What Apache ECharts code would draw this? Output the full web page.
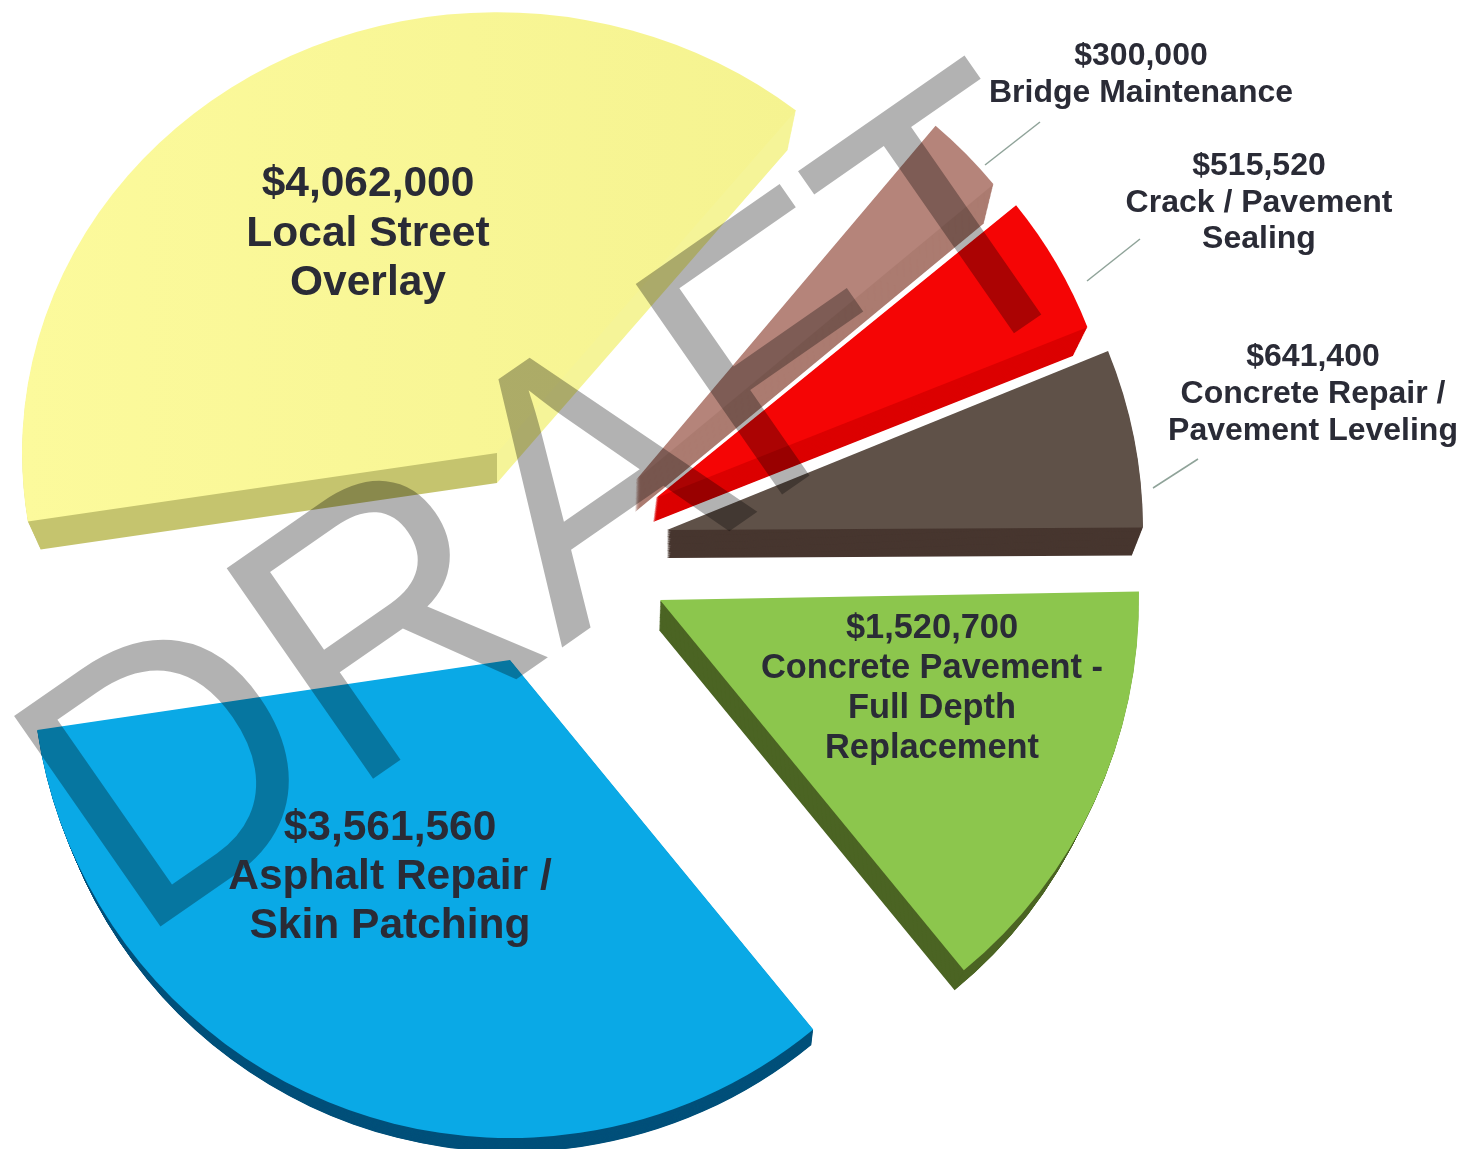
<!DOCTYPE html>
<html>
<head>
<meta charset="utf-8">
<style>
  html, body { margin: 0; padding: 0; background: #fff; }
  #main { width: 1466px; height: 1149px; }
</style>
<script src="https://cdn.jsdelivr.net/npm/echarts@6/dist/echarts.min.js"></script>
</head>
<body>
<div id="main"></div>
<script>
// counter-clockwise from the bridge slice, same order the slices are painted
var categories = ['Bridge Maintenance', 'Local Street\nOverlay', 'Asphalt Repair /\nSkin Patching',
  'Concrete Pavement -\nFull Depth\nReplacement', 'Concrete Repair /\nPavement Leveling', 'Crack / Pavement\nSealing'];
var values = [300000, 4062000, 3561560, 1520700, 641400, 515520];

var total = values.reduce(function (a, b) { return a + b; }, 0);
var startDeg = 40.8;

var topColors = ['#b5847a', '#f9f796', '#0aa9e6', '#8cc64d', '#5f5148', '#f50505'];
var sideColors = ['#ab7b70', null, '#00507a', '#4b6423', '#47362f', '#dc0000'];
// the yellow slice fades a little to the right
var yellowTop = {
  type: 'linear', x: 0, y: 0, x2: 1, y2: 0,
  colorStops: [{ offset: 0, color: '#fcfa9c' }, { offset: 1, color: '#f5f390' }]
};
// the yellow slice has a dark wall left of the tip and a pale one right of it
var yellowWall = {
  type: 'linear', x: -1, y: 0, x2: 1, y2: 0, global: true,
  colorStops: [
    { offset: 0, color: '#c5c46e' }, { offset: 0.5, color: '#c5c46e' },
    { offset: 0.5, color: '#f5f498' }, { offset: 1, color: '#f5f498' }
  ]
};
// tip of each exploded slice and how the bottom face sits behind it
var layout = [
  { cx: 636, cy: 480, r: 464, sy: 1, rot: -1.2, dx: -1, dy: 32, shrink: 11 },
  { cx: 497, cy: 453, r: 475, sy: 0.928, rot: 0, dx: 0, dy: 30, shrink: 13 },
  { cx: 510, cy: 660, r: 478, sy: 1, rot: -0.5, dx: 2, dy: 20, shrink: 6 },
  { cx: 660, cy: 600, r: 479, sy: 1, rot: -0.5, dx: -1, dy: 30, shrink: 13 },
  { cx: 667, cy: 530, r: 476, sy: 1, rot: -1.2, dx: 0, dy: 28, shrink: 11 },
  { cx: 656, cy: 498, r: 464, sy: 1, rot: -1.7, dx: -3, dy: 24, shrink: 12 }
];
var labelPos = [
  { x: 1141, y: 38, size: 32, lh: 37 },
  { x: 368, y: 160, size: 42.5, lh: 49.5 },
  { x: 390, y: 804, size: 42.5, lh: 49 },
  { x: 932, y: 609, size: 34.4, lh: 40 },
  { x: 1313, y: 339, size: 32, lh: 37 },
  { x: 1259, y: 148, size: 32, lh: 36.5 }
];
var leaderLines = [
  [1040, 122, 985, 165],
  [1140, 239, 1087, 281],
  [1198, 459, 1153, 488]
];

function money(v) {
  return '$' + v.toLocaleString('en-US');
}

function renderSlice(params, api) {
  var i = params.dataIndex;
  var before = 0;
  for (var k = 0; k < i; k++) before += values[k];
  var p = layout[i];
  var a0 = -(startDeg + p.rot + before / total * 360) * Math.PI / 180;
  var a1 = a0 - api.value(0) / total * 2 * Math.PI;
  var children = [];
  // wall: stacked copies from the bottom face up to the top face
  var steps = 32;
  for (var s = steps; s > 0; s--) {
    var t = s / steps;
    children.push({
      type: 'sector',
      shape: { cx: p.dx * t, cy: p.dy * t / p.sy, r: p.r - p.shrink * t, r0: 0, startAngle: a0, endAngle: a1, clockwise: false },
      style: { fill: sideColors[i] || yellowWall }
    });
  }
  children.push({
    type: 'sector',
    shape: { cx: 0, cy: 0, r: p.r, r0: 0, startAngle: a0, endAngle: a1, clockwise: false },
    style: { fill: i === 1 ? yellowTop : topColors[i] }
  });
  return { type: 'group', x: p.cx, y: p.cy, scaleY: p.sy, silent: true, children: children };
}

var graphics = [];
// watermark
graphics.push({
  type: 'text',
  x: 184, y: 1012,
  rotation: 34.8 * Math.PI / 180,
  scaleX: 1.01,
  scaleY: 1.05,
  z: 10,
  silent: true,
  style: {
    text: 'DRAFT',
    fontFamily: '"Liberation Sans", Arial, sans-serif',
    fontSize: 355,
    fill: 'rgba(0,0,0,0.3)',
    align: 'left',
    verticalAlign: 'bottom'
  }
});
leaderLines.forEach(function (l) {
  graphics.push({
    type: 'line', z: 9, silent: true,
    shape: { x1: l[0], y1: l[1], x2: l[2], y2: l[3] },
    style: { stroke: '#8fa399', lineWidth: 1.5 }
  });
});
categories.forEach(function (name, i) {
  var p = labelPos[i];
  graphics.push({
    type: 'text', x: p.x, y: p.y, z: 11, silent: true,
    style: {
      text: money(values[i]) + '\n' + name,
      fontFamily: '"Liberation Sans", Arial, sans-serif',
      fontWeight: 'bold',
      fontSize: p.size,
      lineHeight: p.lh,
      fill: '#2a2b36',
      align: 'center',
      verticalAlign: 'top'
    }
  });
});

var chart = echarts.init(document.getElementById('main'), null, { renderer: 'canvas' });
chart.setOption({
  animation: false,
  backgroundColor: '#fff',
  series: [{
    type: 'custom',
    coordinateSystem: 'none',
    silent: true,
    renderItem: renderSlice,
    data: values.map(function (v, i) { return { name: categories[i], value: [v] }; })
  }],
  graphic: { elements: graphics }
});
</script>
</body>
</html>
